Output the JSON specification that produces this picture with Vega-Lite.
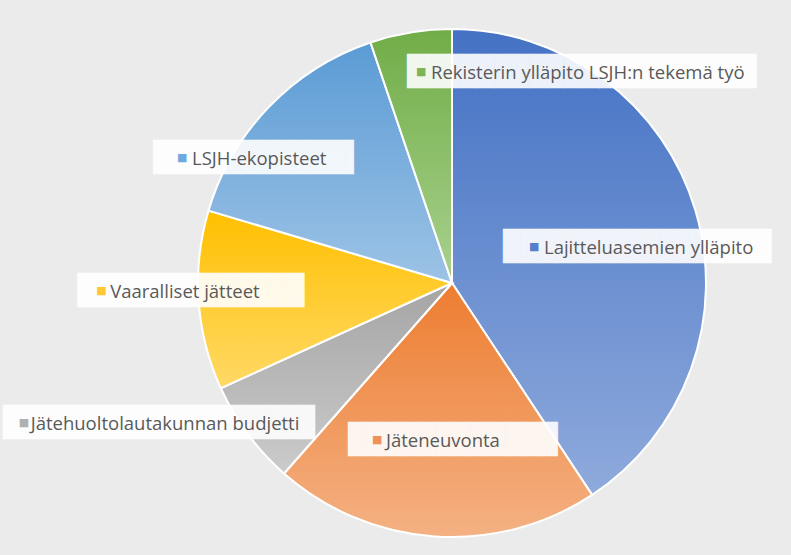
{
  "$schema": "https://vega.github.io/schema/vega-lite/v6.json",
  "autosize": {"type": "none"},
  "width": 678,
  "height": 540,
  "padding": {"left": 113, "top": 13, "right": 0, "bottom": 2},
  "background": "#ebebeb",
  "config": {"view": {"stroke": null}},
  "data": {"values": [
    {"cat": "Lajitteluasemien ylläpito", "value": 40.7},
    {"cat": "Jäteneuvonta", "value": 20.8},
    {"cat": "Jätehuoltolautakunnan budjetti", "value": 6.7},
    {"cat": "Vaaralliset jätteet", "value": 11.4},
    {"cat": "LSJH-ekopisteet", "value": 15.2},
    {"cat": "Rekisterin ylläpito LSJH:n tekemä työ", "value": 5.2}
  ]},
  "transform": [{"window": [{"op": "row_number", "as": "idx"}]}],
  "encoding": {
    "theta": {"field": "value", "type": "quantitative", "stack": true, "scale": {"domain": [0, 100]}},
    "order": {"field": "idx", "type": "quantitative"}
  },
  "layer": [
    {
      "mark": {"type": "arc", "outerRadius": 254, "stroke": "white", "strokeWidth": 2},
      "encoding": {
        "fill": {
          "condition": [
            {"test": "datum.cat === 'Lajitteluasemien ylläpito'", "value": {"gradient": "linear", "x1": 0, "y1": 0, "x2": 0, "y2": 1, "stops": [{"offset": 0, "color": "#4472C4"}, {"offset": 1, "color": "#8FAADC"}]}},
            {"test": "datum.cat === 'Jäteneuvonta'", "value": {"gradient": "linear", "x1": 0, "y1": 0, "x2": 0, "y2": 1, "stops": [{"offset": 0, "color": "#ED7D31"}, {"offset": 1, "color": "#F4B183"}]}},
            {"test": "datum.cat === 'Jätehuoltolautakunnan budjetti'", "value": {"gradient": "linear", "x1": 0, "y1": 0, "x2": 0, "y2": 1, "stops": [{"offset": 0, "color": "#A5A5A5"}, {"offset": 1, "color": "#CBCBCB"}]}},
            {"test": "datum.cat === 'Vaaralliset jätteet'", "value": {"gradient": "linear", "x1": 0, "y1": 0, "x2": 0, "y2": 1, "stops": [{"offset": 0, "color": "#FFC000"}, {"offset": 1, "color": "#FFD966"}]}},
            {"test": "datum.cat === 'LSJH-ekopisteet'", "value": {"gradient": "linear", "x1": 0, "y1": 0, "x2": 0, "y2": 1, "stops": [{"offset": 0, "color": "#5B9BD5"}, {"offset": 1, "color": "#9DC3E6"}]}},
            {"test": "datum.cat === 'Rekisterin ylläpito LSJH:n tekemä työ'", "value": {"gradient": "linear", "x1": 0, "y1": 0, "x2": 0, "y2": 1, "stops": [{"offset": 0, "color": "#70AD47"}, {"offset": 1, "color": "#A9D18E"}]}}
          ],
          "value": "#cccccc"
        }
      }
    },

    {"mark": {"type": "text", "font": "DejaVu Sans Mono", "fontSize": 29, "color": "white", "opacity": 0.9, "align": "left", "baseline": "middle", "radius": 189, "dx": -130, "dy": 18.4},
     "encoding": {"text": {"condition": {"test": "datum.cat === 'Lajitteluasemien ylläpito'", "value": "███████████████▍"}, "value": ""}}},
    {"mark": {"type": "text", "font": "DejaVu Sans", "fontSize": 11, "color": "#5580cc", "align": "left", "baseline": "middle", "radius": 189, "dx": -104, "dy": 18.4},
     "encoding": {"text": {"condition": {"test": "datum.cat === 'Lajitteluasemien ylläpito'", "value": "■"}, "value": ""}}},
    {"mark": {"type": "text", "font": "Open Sans", "fontSize": 18.5, "color": "#595959", "align": "left", "baseline": "middle", "radius": 189, "dx": -89, "dy": 19.4},
     "encoding": {"text": {"condition": {"test": "datum.cat === 'Lajitteluasemien ylläpito'", "field": "cat", "type": "nominal"}, "value": ""}}},

    {"mark": {"type": "text", "font": "DejaVu Sans Mono", "fontSize": 29, "color": "white", "opacity": 0.9, "align": "left", "baseline": "middle", "radius": 156.5, "dx": -93.2, "dy": 0.4},
     "encoding": {"text": {"condition": {"test": "datum.cat === 'Jäteneuvonta'", "value": "████████████"}, "value": ""}}},
    {"mark": {"type": "text", "font": "DejaVu Sans", "fontSize": 11, "color": "#f0905a", "align": "left", "baseline": "middle", "radius": 156.5, "dx": -69.2, "dy": 0.4},
     "encoding": {"text": {"condition": {"test": "datum.cat === 'Jäteneuvonta'", "value": "■"}, "value": ""}}},
    {"mark": {"type": "text", "font": "Open Sans", "fontSize": 18.5, "color": "#595959", "align": "left", "baseline": "middle", "radius": 156.5, "dx": -55.2, "dy": 1.4},
     "encoding": {"text": {"condition": {"test": "datum.cat === 'Jäteneuvonta'", "field": "cat", "type": "nominal"}, "value": ""}}},

    {"mark": {"type": "text", "font": "DejaVu Sans Mono", "fontSize": 29, "color": "white", "opacity": 0.9, "align": "left", "baseline": "middle", "radius": 325, "dx": -188.2, "dy": -53.4},
     "encoding": {"text": {"condition": {"test": "datum.cat === 'Jätehuoltolautakunnan budjetti'", "value": "█████████████████▉"}, "value": ""}}},
    {"mark": {"type": "text", "font": "DejaVu Sans", "fontSize": 11, "color": "#b0b0b0", "align": "left", "baseline": "middle", "radius": 325, "dx": -172.2, "dy": -53.4},
     "encoding": {"text": {"condition": {"test": "datum.cat === 'Jätehuoltolautakunnan budjetti'", "value": "■"}, "value": ""}}},
    {"mark": {"type": "text", "font": "Open Sans", "fontSize": 18.5, "color": "#595959", "align": "left", "baseline": "middle", "radius": 325, "dx": -160.2, "dy": -52.4},
     "encoding": {"text": {"condition": {"test": "datum.cat === 'Jätehuoltolautakunnan budjetti'", "field": "cat", "type": "nominal"}, "value": ""}}},

    {"mark": {"type": "text", "font": "DejaVu Sans Mono", "fontSize": 29, "color": "white", "opacity": 0.9, "align": "left", "baseline": "middle", "radius": 262, "dx": -113.5, "dy": -10.1},
     "encoding": {"text": {"condition": {"test": "datum.cat === 'Vaaralliset jätteet'", "value": "█████████████"}, "value": ""}}},
    {"mark": {"type": "text", "font": "DejaVu Sans", "fontSize": 11, "color": "#ffc832", "align": "left", "baseline": "middle", "radius": 262, "dx": -94.5, "dy": -10.1},
     "encoding": {"text": {"condition": {"test": "datum.cat === 'Vaaralliset jätteet'", "value": "■"}, "value": ""}}},
    {"mark": {"type": "text", "font": "Open Sans", "fontSize": 18.5, "color": "#595959", "align": "left", "baseline": "middle", "radius": 262, "dx": -80.5, "dy": -9.1},
     "encoding": {"text": {"condition": {"test": "datum.cat === 'Vaaralliset jätteet'", "field": "cat", "type": "nominal"}, "value": ""}}},

    {"mark": {"type": "text", "font": "DejaVu Sans Mono", "fontSize": 29, "color": "white", "opacity": 0.9, "align": "left", "baseline": "middle", "radius": 234.6, "dx": -130, "dy": 37.8},
     "encoding": {"text": {"condition": {"test": "datum.cat === 'LSJH-ekopisteet'", "value": "███████████▌"}, "value": ""}}},
    {"mark": {"type": "text", "font": "DejaVu Sans", "fontSize": 11, "color": "#6fa8dc", "align": "left", "baseline": "middle", "radius": 234.6, "dx": -106, "dy": 37.8},
     "encoding": {"text": {"condition": {"test": "datum.cat === 'LSJH-ekopisteet'", "value": "■"}, "value": ""}}},
    {"mark": {"type": "text", "font": "Open Sans", "fontSize": 18.5, "color": "#595959", "align": "left", "baseline": "middle", "radius": 234.6, "dx": -91, "dy": 38.8},
     "encoding": {"text": {"condition": {"test": "datum.cat === 'LSJH-ekopisteet'", "field": "cat", "type": "nominal"}, "value": ""}}},

    {"mark": {"type": "text", "font": "DejaVu Sans Mono", "fontSize": 29, "color": "white", "opacity": 0.9, "align": "left", "baseline": "middle", "radius": 247.6, "dx": -4.7, "dy": 33.3},
     "encoding": {"text": {"condition": {"test": "datum.cat === 'Rekisterin ylläpito LSJH:n tekemä työ'", "value": "████████████████████"}, "value": ""}}},
    {"mark": {"type": "text", "font": "DejaVu Sans", "fontSize": 11, "color": "#7db555", "align": "left", "baseline": "middle", "radius": 247.6, "dx": 4.3, "dy": 33.3},
     "encoding": {"text": {"condition": {"test": "datum.cat === 'Rekisterin ylläpito LSJH:n tekemä työ'", "value": "■"}, "value": ""}}},
    {"mark": {"type": "text", "font": "Open Sans", "fontSize": 18.5, "color": "#595959", "align": "left", "baseline": "middle", "radius": 247.6, "dx": 19.3, "dy": 34.3},
     "encoding": {"text": {"condition": {"test": "datum.cat === 'Rekisterin ylläpito LSJH:n tekemä työ'", "field": "cat", "type": "nominal"}, "value": ""}}}
  ]
}
